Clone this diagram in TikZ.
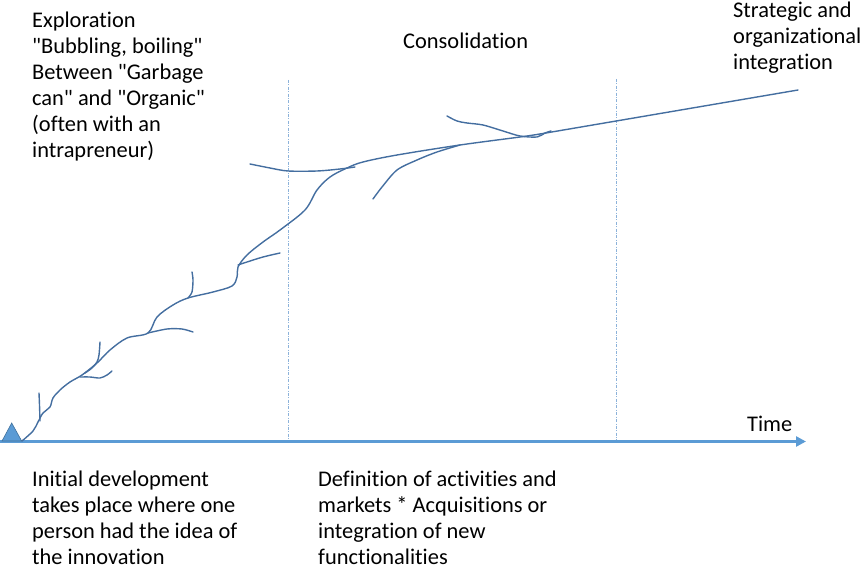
\documentclass[tikz,border=0pt]{standalone}
\usepackage{fontspec}
\setmainfont{Carlito}[Ligatures=NoCommon]
\usetikzlibrary{arrows.meta,positioning}
\definecolor{AxisBlue}{RGB}{91,155,213}
\definecolor{TwigBlue}{RGB}{68,110,160}
\definecolor{GuideBlue}{RGB}{140,178,218}
\definecolor{StartEdge}{RGB}{65,113,156}
\newcommand{\sq}{\textquotedbl}

\begin{document}
\begin{tikzpicture}[
  x=1pt, y=-1pt,
  lbl/.style={
    anchor=base west,
    align=left,
    inner sep=0pt,
    font=\fontsize{22.4}{26}\selectfont
  },
  twig/.style={draw=TwigBlue, line width=1.4pt, line cap=round},
  guide/.style={draw=GuideBlue, line width=0.7pt,
    dash pattern=on 3pt off 1.5pt on 0.8pt off 1.5pt},
  timeline/.style={draw=AxisBlue, line width=3.6pt,
    -{Triangle[length=10pt,width=10pt]}}
]
\useasboundingbox (0,0) rectangle (863,572);

% phase texts (placed by the baseline of their last line)
\node[lbl] (explore) at (32,158) {Exploration\\\sq Bubbling, boiling\sq\\Between \sq Garbage\\can\sq{} and \sq Organic\sq\\(often with an\\intrapreneur)};
\node[lbl] (consol) at (403,49) {Consolidation};
\node[lbl] (strat) at (733,70) {Strategic and\\organizational\\integration};
\node[lbl] (initial) at (32,564) {Initial development\\takes place where one\\person had the idea of\\the innovation};
\node[lbl] (define) at (318,564) {Definition of activities and\\markets * Acquisitions or\\integration of new\\functionalities};
\node[lbl] (time) at (747,431) {Time};

% time axis and phase borders
\coordinate (t0) at (0,441.5);
\coordinate (tend) at (806,441.5);
\coordinate (b1top) at (288,80);
\coordinate (b1bot) at (288,440);
\coordinate (b2top) at (616,79);
\coordinate (b2bot) at (616,440);
\draw[guide] (b1top) -- (b1bot);
\draw[guide] (b2top) -- (b2bot);
\draw[timeline] (t0) -- (tend);
\draw[fill=AxisBlue, draw=StartEdge, line width=0.6pt] (2,441) -- (11.7,423) -- (21.7,441) -- cycle;

% trunk
\draw[twig] plot[smooth, tension=0.55] coordinates {(22,441) (33,431) (38,422) (43,413) (50,407) (53,398) (60,390) (70,382) (82,375) (97,363) (110,350) (127,338) (148,333) (157,317) (173,305) (188,298) (213,292) (232,286) (237,277) (238,267) (247,255) (263,242) (280,230) (305,210) (317,190) (330,177) (347,168) (363,162) (397,155) (460,145) (520,137) (540,134)};
\draw[twig] (540,134) -- (798,90);

% side branches
\draw[twig] plot[smooth] coordinates {(39,393) (39.5,405) (40,421)};
\draw[twig] plot[smooth] coordinates {(100,342) (99,355) (97,362) (92,368) (85,373)};
\draw[twig] plot[smooth] coordinates {(80,377) (90,377) (100,378) (107,375) (112,371)};
\draw[twig] plot[smooth] coordinates {(148,333) (167,329) (182,329) (193,332)};
\draw[twig] plot[smooth] coordinates {(192,272) (193,280) (192,292) (188,298)};
\draw[twig] plot[smooth] coordinates {(238,265) (247,262) (263,257) (280,253)};
\draw[twig] plot[smooth] coordinates {(250,164) (270,168) (288,171) (317,171) (340,169) (355,167)};
\draw[twig] plot[smooth] coordinates {(373,199) (382,187) (397,170) (417,160) (437,152) (460,145)};
\draw[twig] plot[smooth] coordinates {(447,116) (457,121) (467,123) (483,125) (503,131) (520,136) (537,137) (545,133) (551,131)};
\end{tikzpicture}
\end{document}
